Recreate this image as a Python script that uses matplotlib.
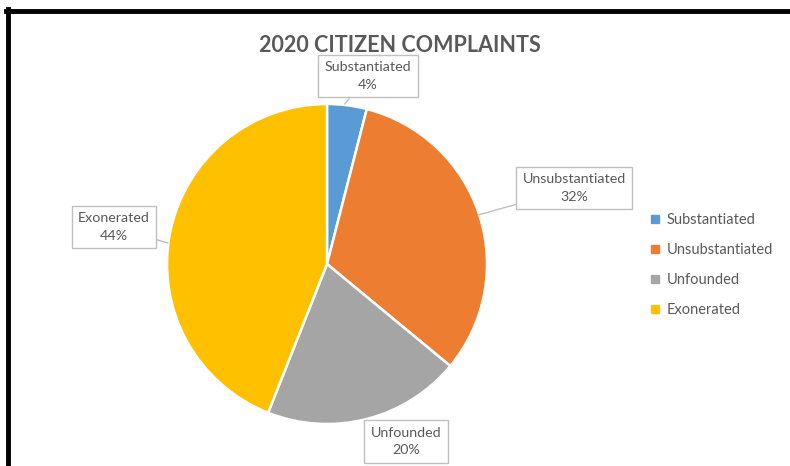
import matplotlib.pyplot as plt
from matplotlib.lines import Line2D

# Datos
categorias = ["Substantiated", "Unsubstantiated", "Unfounded", "Exonerated"]
porcentajes = [4, 32, 20, 44]
colores = ["#5b9bd5", "#ed7d31", "#a5a5a5", "#ffc000"]

TXT = "#595959"
plt.rcParams["font.family"] = ["Lato", "DejaVu Sans"]

fig = plt.figure(figsize=(7.9, 4.66), dpi=100)
fig.patch.set_facecolor("white")

# Ejes del pastel: centro (327, 264) px, radio 160 px
W, H = 790, 466
cx, cy, r = 327, 264, 160
ax = fig.add_axes([(cx - r) / W, (H - cy - r) / H, 2 * r / W, 2 * r / H])
wedges, _ = ax.pie(porcentajes, colors=colores, startangle=90, counterclock=False,
                   radius=1, wedgeprops=dict(edgecolor="white", linewidth=1.8))
ax.set_xlim(-1, 1)
ax.set_ylim(-1, 1)
ax.set_aspect("equal")
ax.axis("off")

# Etiquetas tipo "callout": (texto, posición caja, punta)
pos_caja = [(0.256, 1.175), (1.544, 0.475), (0.494, -1.11), (-1.331, 0.231)]
punta = [(0.11, 1.0), (0.944, 0.306), (0.494, -1.0), (-0.994, 0.131)]
for cat, p, xy, xt in zip(categorias, porcentajes, punta, pos_caja):
    ax.annotate(f"{cat}\n{p}%", xy=xy, xytext=xt, ha="center", va="center",
                fontsize=10.3, color=TXT, linespacing=1.55, annotation_clip=False,
                bbox=dict(boxstyle="square,pad=0.45", fc="white", ec="#bfbfbf", lw=1),
                arrowprops=dict(arrowstyle="-", color="#bfbfbf", lw=1,
                                shrinkA=0, shrinkB=0) if cat != "Unfounded" else None)

# Título
fig.text(400 / W, 1 - 45 / H, "2020 CITIZEN COMPLAINTS", ha="center", va="center",
         fontsize=15.5, fontweight="bold", color=TXT)

# Leyenda
handles = [Line2D([], [], marker="s", linestyle="none", markersize=6,
                  markerfacecolor=c, markeredgecolor=c) for c in colores]
fig.legend(handles, categorias, loc="upper left",
           bbox_to_anchor=(642 / W, 1 - 206 / H), frameon=False,
           fontsize=10.5, labelcolor=TXT, handlelength=0.8, handletextpad=0.4,
           labelspacing=1.1, borderpad=0)

# Marco negro (borde superior e izquierdo)
fig.add_artist(Line2D([6 / W, 1], [1 - 11 / H, 1 - 11 / H], color="black", lw=3.5))
fig.add_artist(Line2D([8 / W, 8 / W], [0, 1 - 9 / H], color="black", lw=3.5))

fig.savefig("out.png", dpi=100, facecolor="white")
plt.close(fig)
